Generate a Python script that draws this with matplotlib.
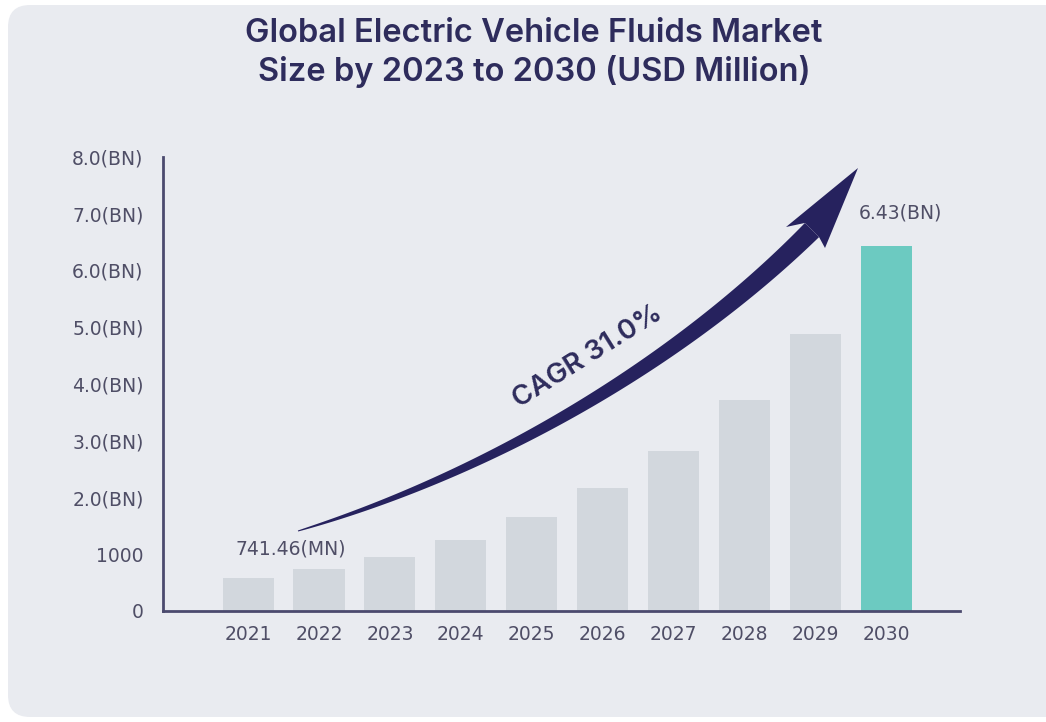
import numpy as np
import matplotlib.pyplot as plt
from matplotlib.patches import FancyBboxPatch, Polygon

# Market size per year, USD million
years = ["2021", "2022", "2023", "2024", "2025", "2026", "2027", "2028", "2029", "2030"]
market_size = [590, 741.46, 960, 1250, 1660, 2160, 2820, 3720, 4880, 6430]

y_ticks = [0, 1000, 2000, 3000, 4000, 5000, 6000, 7000, 8000]
y_tick_labels = ["0", "1000", "2.0(BN)", "3.0(BN)", "4.0(BN)", "5.0(BN)",
                 "6.0(BN)", "7.0(BN)", "8.0(BN)"]

cagr_text = "CAGR 31.0%"

# colours
card_bg = "#e9ebf0"
bar_grey = "#d2d7dd"
bar_teal = "#6ccac1"
navy = "#2e2c5c"
arrow_col = "#26225e"
axis_col = "#4b4a6e"
label_col = "#4f4e66"

W, H = 1046, 722
fig = plt.figure(figsize=(W / 100, H / 100), dpi=100)
fig.patch.set_facecolor("white")

# rounded card behind everything, drawn in pixel units
bg = fig.add_axes([0, 0, 1, 1], zorder=0)
bg.set_xlim(0, W)
bg.set_ylim(H, 0)
bg.axis("off")
bg.add_patch(FancyBboxPatch((8, 5), W + 20, H - 10,
                            boxstyle="round,pad=0,rounding_size=22",
                            fc=card_bg, ec="none"))

bg.text(534, 34, "Global Electric Vehicle Fluids Market", ha="center", va="center",
        fontsize=23.5, fontweight="semibold", family="Inter", color=navy)
bg.text(534, 71, "Size by 2023 to 2030 (USD Million)", ha="center", va="center",
        fontsize=23.5, fontweight="semibold", family="Inter", color=navy)

# bar chart
ax = fig.add_axes([163 / W, 1 - 611 / H, (960 - 163) / W, (611 - 157) / H], zorder=1)
ax.patch.set_alpha(0)
x = np.arange(len(years))
colors = [bar_grey] * (len(years) - 1) + [bar_teal]
ax.bar(x, market_size, width=0.72, color=colors, zorder=1)

ax.set_xlim(-1.2, 10.04)
ax.set_ylim(0, 8000)
ax.set_xticks(x)
ax.set_xticklabels(years)
ax.set_yticks(y_ticks)
ax.set_yticklabels(y_tick_labels)
ax.tick_params(length=0, labelsize=13.5, labelcolor=label_col)
ax.tick_params(axis="y", pad=14)
ax.tick_params(axis="x", pad=10)

for side in ["top", "right"]:
    ax.spines[side].set_visible(False)
for side in ["left", "bottom"]:
    ax.spines[side].set_color(axis_col)
    ax.spines[side].set_linewidth(2)

# value labels for the first and last reported years
ax.text(0.6, market_size[1] + 350, f"{market_size[1]:.2f}(MN)", ha="center", va="center",
        fontsize=13.5, color=label_col)
ax.text(9.2, market_size[-1] + 580, f"{market_size[-1] / 1000:.2f}(BN)", ha="center",
        va="center", fontsize=13.5, color=label_col)

# growth arrow: tapering cubic bezier with a swept-back head (pixel units)
over = fig.add_axes([0, 0, 1, 1], zorder=2)
over.set_xlim(0, W)
over.set_ylim(H, 0)
over.axis("off")

p0 = np.array([298, 531])
p1 = np.array([498, 471])
p2 = np.array([685, 357])
p3 = np.array([812, 230])
t = np.linspace(0, 1, 120)[:, None]
curve = (1 - t) ** 3 * p0 + 3 * (1 - t) ** 2 * t * p1 + 3 * (1 - t) * t ** 2 * p2 + t ** 3 * p3
deriv = 3 * (1 - t) ** 2 * (p1 - p0) + 6 * (1 - t) * t * (p2 - p1) + 3 * t ** 2 * (p3 - p2)
tang = deriv / np.linalg.norm(deriv, axis=1, keepdims=True)
normal = np.column_stack([-tang[:, 1], tang[:, 0]])
half = (0.5 + 9.5 * t[:, 0] ** 0.8)[:, None]
left = curve + normal * half
right = curve - normal * half
shaft = np.vstack([left, right[::-1]])
over.add_patch(Polygon(shaft, closed=True, fc=arrow_col, ec="none"))

head = np.array([right[-1], [786, 227], [858, 168], [825, 248], left[-1]])
over.add_patch(Polygon(head, closed=True, fc=arrow_col, ec="none"))

over.text(588, 357, cagr_text, rotation=32, ha="center", va="center",
          fontsize=20, fontweight="semibold", family="Inter", color=navy,
          rotation_mode="anchor")

fig.savefig("out.png", dpi=100)
